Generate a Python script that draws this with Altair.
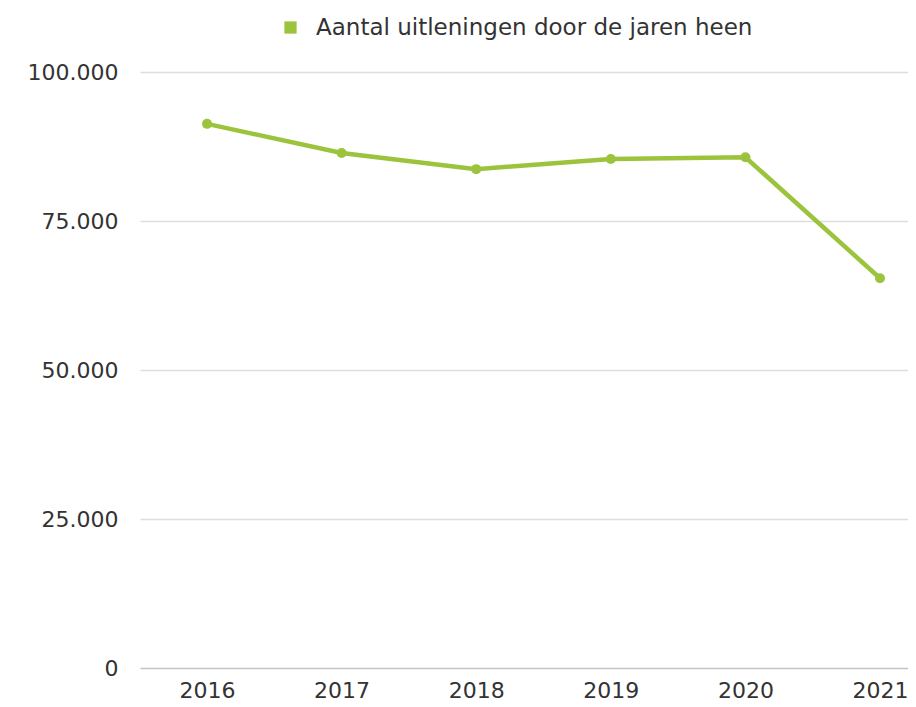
import altair as alt
import pandas as pd

years = [2016, 2017, 2018, 2019, 2020, 2021]
loans = [91300, 86400, 83700, 85400, 85700, 65400]
series_name = "Aantal uitleningen door de jaren heen"
y_ticks = [0, 25000, 50000, 75000, 100000]

df = pd.DataFrame({"jaar": years, "uitleningen": loans, "reeks": [series_name] * len(years)})

green = "#9bc43c"
font = "DejaVu Sans"

x = alt.X(
    "jaar:Q",
    scale=alt.Scale(domain=[2015.502, 2021.208], nice=False, zero=False),
    axis=alt.Axis(values=years, format="d", title=None, grid=False, domain=False, ticks=False,
                  labelFontSize=22, labelColor="#333333", labelFont=font, labelPadding=12),
)
y = alt.Y(
    "uitleningen:Q",
    scale=alt.Scale(domain=[0, 100000], nice=False),
    axis=alt.Axis(values=y_ticks, title=None, domain=False, ticks=False,
                  labelExpr="replace(format(datum.value, ','), ',', '.')",
                  labelFontSize=22, labelColor="#333333", labelFont=font, labelPadding=22,
                  gridColor={"condition": {"test": "datum.value === 0", "value": "#c4c4c4"},
                             "value": "#dddddd"},
                  gridWidth=1.5),
)
color = alt.Color(
    "reeks:N",
    scale=alt.Scale(range=[green]),
    legend=alt.Legend(title=None, orient="none", legendX=139, legendY=-56, symbolType="square",
                      symbolSize=150, symbolFillColor=green, symbolStrokeWidth=0,
                      labelFontSize=23, labelFont=font, labelColor="#333333", labelOffset=14,
                      labelLimit=1000),
)

chart = (
    alt.Chart(df)
    .mark_line(strokeWidth=4.5, point=alt.OverlayMarkDef(size=100, filled=True, color=green))
    .encode(x=x, y=y, color=color)
    .properties(width=768, height=596, padding={"left": 132, "top": 64, "right": 0, "bottom": 36},
                autosize=alt.AutoSizeParams(type="none"))
    .configure(background="white")
    .configure_view(strokeWidth=0, stroke=None)
)

chart.save("out.html", embed_options={"renderer": "svg", "actions": False})
